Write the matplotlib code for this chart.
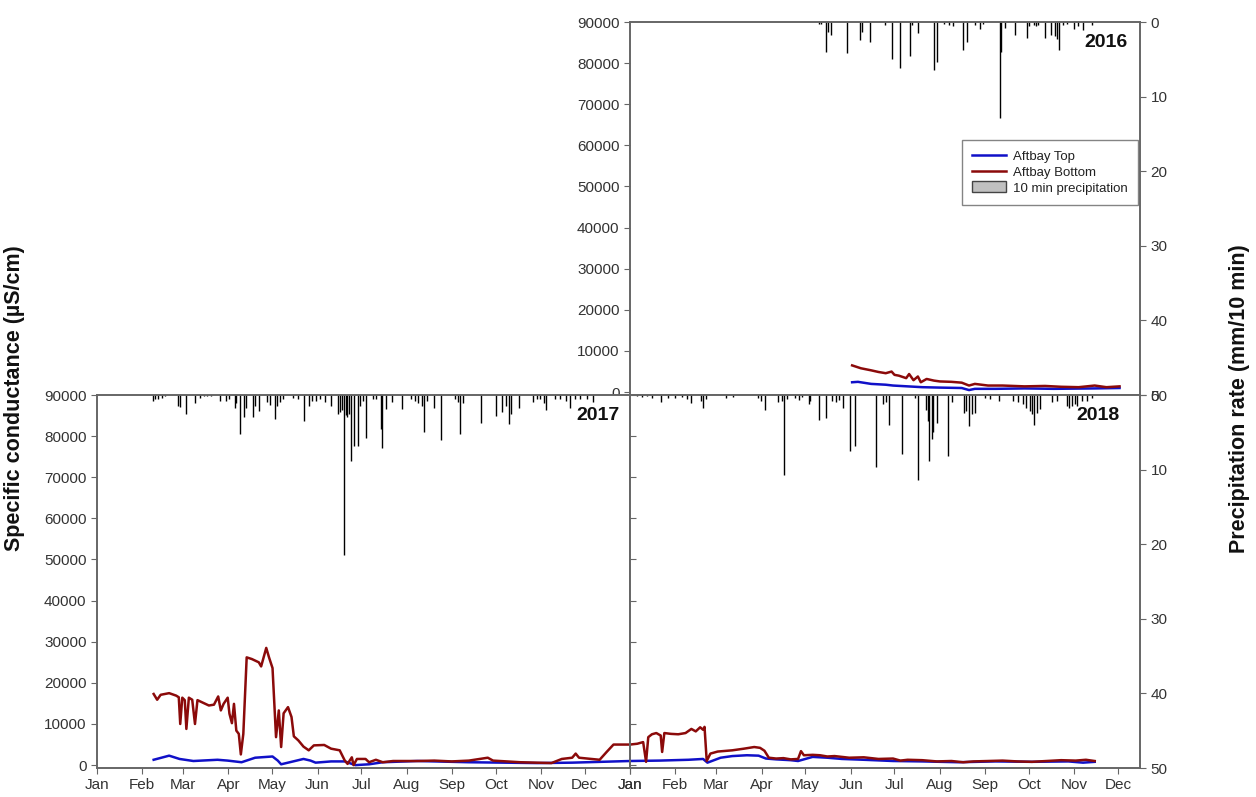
import matplotlib.pyplot as plt
from matplotlib.patches import Patch
from matplotlib.lines import Line2D

plt.rcParams['font.family'] = ['Liberation Sans', 'DejaVu Sans']

# month starts (day of year) and labels
month_doy = [0, 31, 59, 90, 120, 151, 181, 212, 243, 273, 304, 334, 365]
month_lbl = ['Jan', 'Feb', 'Mar', 'Apr', 'May', 'Jun', 'Jul', 'Aug', 'Sep', 'Oct', 'Nov', 'Dec', 'Jan']

# ---- 2016 ----
top16_doy = [152, 156, 165, 175, 180, 190, 200, 212, 227, 232, 236, 250, 270, 290, 318, 335]
top16_sc = [2400, 2500, 2000, 1800, 1600, 1400, 1200, 1100, 1000, 500, 800, 800, 900, 800, 900, 1000]
bot16_doy = [152, 158, 165, 170, 175, 179, 181, 184, 189, 191, 194, 197, 199, 203, 208, 212,
             220, 227, 232, 236, 245, 255, 270, 284, 295, 307, 318, 326, 335]
bot16_sc = [6500, 5800, 5300, 4900, 4600, 5000, 4200, 4000, 3400, 4400, 2900, 3800, 2400, 3200,
            2800, 2600, 2500, 2300, 1600, 2000, 1600, 1600, 1400, 1500, 1300, 1200, 1600, 1200, 1400]
rain16_doy = [129.4, 131.0, 134.0, 135.5, 137.7, 148.7, 157.5, 158.8, 164.0, 174.4, 179.3, 184.5,
              191.5, 192.7, 197.3, 208.3, 210.4, 215.0, 218.1, 221.1, 227.9, 230.3, 235.8, 239.5,
              241.9, 253.2, 254.2, 256.3, 263.3, 271.6, 273.1, 276.2, 277.7, 279.2, 283.8, 288.4,
              290.8, 292.4, 293.6, 296.1, 299.1, 303.7, 306.8, 309.8, 316.0]
rain16_mm = [0.3, 0.3, 4.0, 1.4, 1.8, 4.2, 2.4, 1.4, 2.7, 0.45, 4.9, 6.2,
             4.5, 0.45, 1.5, 6.5, 5.3, 0.3, 0.45, 0.6, 3.7, 2.7, 0.45, 0.9,
             0.3, 12.9, 4.0, 0.8, 1.7, 2.1, 0.5, 0.45, 0.5, 0.45, 2.1, 1.7,
             1.9, 2.25, 3.7, 0.45, 0.3, 0.9, 0.5, 1.1, 0.45]

# ---- 2017 ----
top17_doy = [38.8, 49.4, 56.5, 66.0, 82.5, 89.5, 99.0, 108.3, 120.2, 123.8, 126.1, 132.0, 141.4,
             146.2, 149.7, 160.3, 169.7, 176.9, 186.3, 195.7, 219.3, 254.7, 301.8, 325.4, 365]
top17_sc = [1300, 2300, 1500, 1000, 1300, 1100, 700, 1800, 2100, 1100, 200, 700, 1500,
            1100, 600, 900, 900, 0, 200, 700, 1000, 700, 500, 600, 1000]
bot17_doy = [38.8, 41.2, 43.6, 49.4, 54.2, 56.0, 57.0, 58.4, 60.1, 61.2, 62.9, 65.2, 67.1, 68.8,
             73.0, 76.6, 80.1, 83.0, 84.8, 86.7, 89.5, 90.7, 92.4, 93.8, 95.4, 97.1, 98.5, 100.2,
             102.5, 106.0, 110.8, 112.4, 115.9, 117.8, 120.2, 122.6, 124.5, 126.1, 127.8, 130.8,
             133.2, 134.8, 137.9, 141.4, 145.0, 148.5, 155.6, 160.3, 166.2, 169.7, 171.6, 174.5,
             175.7, 178.0, 183.9, 186.3, 191.0, 195.7, 202.8, 219.3, 231.0, 242.9, 254.7, 267.6,
             271.2, 290.0, 311.2, 318.3, 325.4, 327.8, 330.1, 344.2, 349.0, 353.7, 365]
bot17_sc = [17300, 15900, 17100, 17500, 16900, 16500, 10000, 16400, 15800, 8800, 16400, 15900,
            10000, 15800, 15100, 14500, 14700, 16700, 13300, 14900, 16400, 12500, 10200, 14900,
            8400, 7600, 2600, 7600, 26200, 25800, 25000, 24000, 28500, 26200, 23600, 6800,
            13300, 4400, 12600, 14100, 11700, 7000, 6000, 4500, 3600, 4800, 4900, 4000, 3600,
            1100, 300, 1900, 0, 1500, 1500, 700, 1300, 700, 1000, 1000, 1100, 900, 1100, 1800,
            1100, 700, 500, 1500, 1800, 2800, 1800, 1300, 3200, 5000, 5000]
rain17_doy = [38.2, 39.4, 41.9, 44.4, 46.9, 55.6, 56.9, 61.1, 67.3, 70.5, 73.0, 75.5, 78.0, 84.2,
              88.0, 90.5, 94.2, 95.5, 98.0, 100.4, 101.7, 106.7, 107.9, 111.1, 116.6, 118.6,
              122.1, 123.3, 125.3, 127.1, 134.1, 137.8, 141.5, 145.3, 147.0, 150.3, 152.7, 156.0,
              160.2, 165.2, 166.4, 167.7, 169.2, 170.2, 171.4, 172.7, 173.9, 175.9, 178.4, 180.1,
              181.9, 184.4, 188.9, 191.3, 194.3, 195.1, 198.1, 201.8, 208.8, 215.0, 217.5, 220.0,
              222.5, 224.2, 226.2, 230.7, 235.4, 244.9, 247.4, 248.6, 250.6, 263.1, 273.0, 277.3,
              279.8, 282.3, 283.5, 289.0, 298.5, 301.0, 303.4, 305.9, 307.7, 313.4, 317.1, 320.9,
              323.9, 327.1, 330.8, 335.8, 339.5]
rain17_mm = [0.8, 0.6, 0.5, 0.35, 0.2, 1.5, 1.55, 2.6, 1.1, 0.35, 0.2, 0.2, 0.2, 0.8,
             0.8, 0.6, 1.8, 1.1, 5.2, 3.0, 1.8, 3.0, 1.5, 2.1, 1.0, 1.3,
             3.25, 1.5, 1.0, 0.5, 0.35, 0.5, 3.5, 1.5, 0.8, 0.8, 0.5, 1.0,
             1.5, 2.5, 2.3, 2.0, 21.4, 2.7, 2.9, 2.5, 8.8, 6.9, 6.9, 1.5,
             0.8, 5.7, 0.5, 0.6, 4.5, 7.1, 1.9, 1.0, 1.9, 0.6, 0.8, 1.1,
             1.5, 5.0, 0.8, 1.8, 6.0, 0.6, 1.0, 5.2, 1.1, 3.7, 2.8, 2.3,
             1.5, 3.9, 2.5, 1.8, 1.0, 0.6, 0.5, 1.1, 2.0, 0.5, 0.6, 0.8,
             1.8, 0.6, 0.5, 0.5, 1.0]

# ---- 2018 ----
top18_doy = [0, 20, 40, 50, 53, 56, 62, 70, 80, 88, 93, 100, 110, 115, 125, 135, 145, 160, 180,
             200, 225, 250, 275, 300, 310, 318]
top18_sc = [1000, 1100, 1300, 1500, 600, 1000, 1800, 2200, 2400, 2300, 1600, 1400, 1200, 1000,
            2000, 1800, 1500, 1300, 1000, 900, 700, 900, 800, 900, 600, 800]
bot18_doy = [0, 5, 9, 11, 12.5, 15, 18, 21, 22, 23.5, 28, 33, 38, 42, 45, 48, 50, 51, 52.5, 55,
             60, 70, 78, 85, 89, 92, 95, 100, 105, 110, 115, 117, 119, 125, 130, 135, 140, 150,
             160, 170, 180, 185, 190, 200, 210, 220, 228, 235, 245, 255, 265, 275, 285, 295, 305,
             312, 318]
bot18_sc = [5000, 5200, 5600, 800, 6800, 7500, 7800, 7200, 3200, 7800, 7600, 7500, 7800, 8800,
            8200, 9200, 8600, 9300, 1000, 2800, 3300, 3600, 4000, 4400, 4200, 3500, 1800, 1600,
            1700, 1400, 1500, 3400, 2400, 2500, 2400, 2100, 2200, 1800, 1900, 1500, 1600, 1100,
            1300, 1200, 900, 1000, 700, 900, 1000, 1100, 900, 800, 1000, 1200, 1100, 1300, 1000]
rain18_doy = [4.7, 8.3, 11.8, 15.3, 21.2, 25.9, 30.7, 35.4, 38.9, 42.0, 48.3, 50.0, 51.9, 66.0,
              70.8, 87.3, 89.6, 92.5, 101.4, 103.8, 105.4, 107.3, 113.2, 115.6, 117.9, 122.2,
              123.1, 129.2, 134.4, 138.0, 141.0, 142.7, 145.8, 150.5, 153.8, 168.6, 173.3, 175.0,
              177.4, 185.8, 195.3, 196.9, 202.8, 204.0, 204.7, 206.4, 207.5, 209.9, 217.5, 220.5,
              228.3, 230.0, 232.3, 234.0, 235.8, 242.9, 246.5, 252.4, 261.8, 265.3, 268.9, 271.2,
              273.6, 274.8, 276.4, 278.3, 280.7, 288.9, 292.5, 299.1, 300.7, 302.4, 304.2, 306.1,
              309.0, 312.5, 316.0]
rain18_mm = [0.2, 0.3, 0.2, 0.45, 1.0, 0.45, 0.45, 0.3, 0.55, 1.1, 0.8, 1.7, 0.55, 0.45,
             0.3, 0.45, 0.8, 2.0, 0.9, 0.8, 10.7, 0.55, 0.45, 0.65, 0.3, 1.2,
             0.8, 3.3, 3.1, 0.8, 1.0, 0.65, 1.7, 7.5, 6.8, 9.7, 1.2, 0.9,
             4.0, 7.9, 0.45, 11.4, 2.0, 3.5, 8.8, 5.9, 4.9, 3.8, 8.2, 0.9,
             2.4, 2.2, 4.1, 2.6, 2.4, 0.45, 0.55, 0.8, 0.8, 1.0, 1.2, 1.7,
             2.2, 2.6, 4.0, 2.4, 1.9, 1.0, 0.8, 1.5, 1.7, 1.5, 1.2, 1.5,
             0.8, 0.8, 0.45]

blue = '#1010c8'
red = '#8b0a0a'
grey = '#666666'
txt = '#333333'

W, H = 1256, 797
fig = plt.figure(figsize=(W / 100, H / 100), dpi=100)


def box(x0, y0, x1, y1):
    return [x0 / W, 1 - y1 / H, (x1 - x0) / W, (y1 - y0) / H]


def panel(rect, xmax, top_doy, top_sc, bot_doy, bot_sc, rain_doy, rain_mm, year, yx):
    ax = fig.add_axes(rect)
    ax.plot(top_doy, top_sc, color=blue, lw=1.8)
    ax.plot(bot_doy, bot_sc, color=red, lw=1.8)
    ax.set_xlim(0, xmax)
    ax.set_ylim(-700, 90000)
    ax.set_yticks(range(0, 90001, 10000))
    ax.set_xticks([m for m in month_doy if m <= xmax])
    for s in ax.spines.values():
        s.set_color(grey)
        s.set_linewidth(1.2)
    ax.tick_params(colors=grey, labelcolor=txt, labelsize=11, length=4)
    tw = ax.twinx()
    tw.vlines(rain_doy, 0, rain_mm, color='black', lw=1.0)
    tw.set_ylim(50, 0)
    tw.set_xlim(0, xmax)
    for s in tw.spines.values():
        s.set_color(grey)
        s.set_linewidth(1.2)
    tw.tick_params(colors=grey, labelcolor=txt, labelsize=11, length=4)
    tw.set_yticks(range(0, 51, 10))
    ax.text(yx, 0.945, year, transform=ax.transAxes, ha='right', va='center',
            fontsize=14, fontweight='bold', color='#111111')
    return ax, tw


ax16, tw16 = panel(box(630, 22, 1140, 395), 349, top16_doy, top16_sc, bot16_doy, bot16_sc,
                   rain16_doy, rain16_mm, '2016', 0.975)
ax16.tick_params(bottom=False, labelbottom=False)

ax17, tw17 = panel(box(97, 395, 630, 768), 365, top17_doy, top17_sc, bot17_doy, bot17_sc,
                   rain17_doy, rain17_mm, '2017', 0.981)
ax17.set_xticklabels(month_lbl)
tw17.tick_params(right=False, labelright=False)

ax18, tw18 = panel(box(630, 395, 1140, 768), 349, top18_doy, top18_sc, bot18_doy, bot18_sc,
                   rain18_doy, rain18_mm, '2018', 0.961)
ax18.set_xticklabels(month_lbl[:12])
ax18.tick_params(axis='y', direction='in', labelleft=False)

handles = [Line2D([], [], color=blue, lw=1.8), Line2D([], [], color=red, lw=1.8),
           Patch(facecolor='#c0c0c0', edgecolor='#444444')]
leg = tw16.legend(handles, ['Aftbay Top', 'Aftbay Bottom', '10 min precipitation'],
                  loc='upper left', bbox_to_anchor=(955 / W, 1 - 133 / H),
                  bbox_transform=fig.transFigure, fontsize=9.5, frameon=True, fancybox=False,
                  handlelength=2.6, handleheight=0.9, handletextpad=0.5, labelspacing=0.2,
                  borderpad=0.8, edgecolor=grey)
leg.get_frame().set_linewidth(1.0)
for t in leg.get_texts():
    t.set_color('#222222')

fig.text(15 / W, 0.5, 'Specific conductance (µS/cm)', rotation=90, ha='center', va='center',
         fontsize=15.5, fontweight='bold', color='#111111')
fig.text(1240 / W, 0.5, 'Precipitation rate (mm/10 min)', rotation=90, ha='center', va='center',
         fontsize=15.5, fontweight='bold', color='#111111')

fig.savefig('out.png', dpi=100)
